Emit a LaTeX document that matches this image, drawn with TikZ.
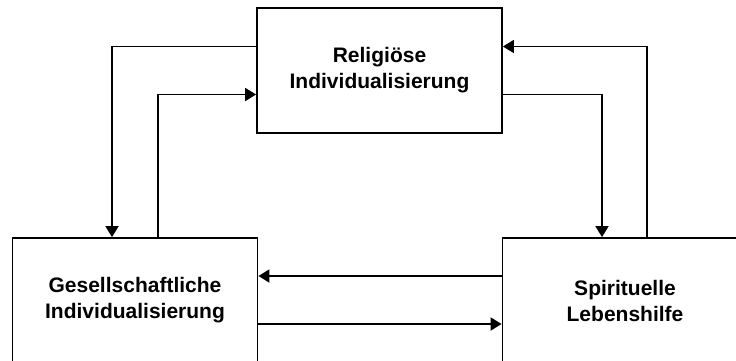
\documentclass[tikz,border=0pt]{standalone}
\usepackage{fontspec}
\setmainfont{Liberation Sans}
\usetikzlibrary{arrows.meta}
\tikzset{
  box/.style={draw, line width=1.8pt, minimum width=245pt, minimum height=125pt, inner sep=0pt,
    align=center, font=\fontsize{21}{26}\selectfont\bfseries},
  arr/.style={line width=1.8pt, -{Triangle[length=11pt,width=13pt]}}
}
\begin{document}
\begin{tikzpicture}[x=1pt,y=-1pt]
\useasboundingbox (0,0) rectangle (736,360);
\clip (0,0) rectangle (736,360);
\fill[white] (0,0) rectangle (736,360);
\node[box] (top) at (379.5,70.5) {Religiöse\\Individualisierung};
\node[box] (left) at (135,300.5) {Gesellschaftliche\\Individualisierung};
\node[box] (right) at (625,300.5) {Spirituelle\\Lebenshilfe};
\draw[arr] ([yshift=24pt]top.west) -| ([xshift=-23pt]left.north);
\draw[arr] ([xshift=23pt]left.north) |- ([yshift=-24pt]top.west);
\draw[arr] ([xshift=22pt]right.north) |- ([yshift=24pt]top.east);
\draw[arr] ([yshift=-24pt]top.east) -| ([xshift=-23pt]right.north);
\draw[arr] ([yshift=24.5pt]right.west) -- ([yshift=24.5pt]left.east);
\draw[arr] ([yshift=-23.5pt]left.east) -- ([yshift=-23.5pt]right.west);
\end{tikzpicture}
\end{document}
